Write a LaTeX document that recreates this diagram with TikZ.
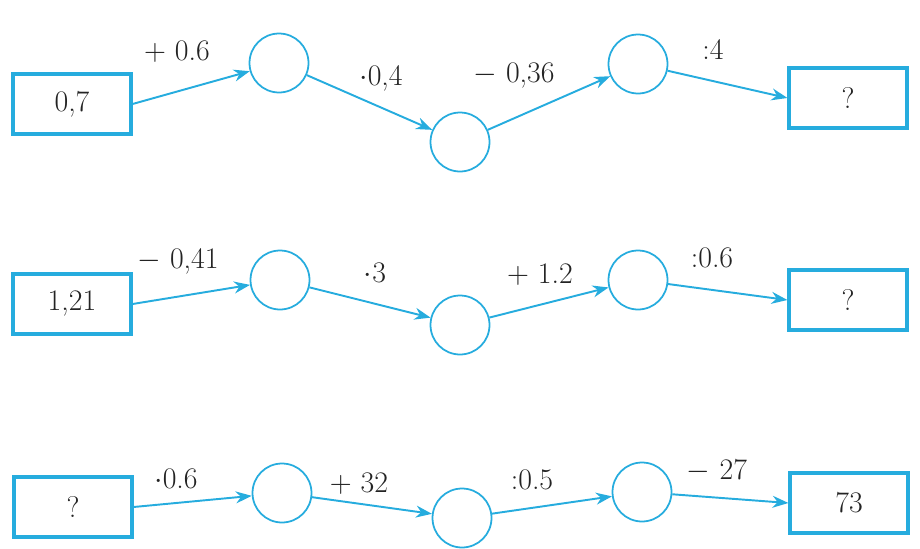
\documentclass[tikz,border=0pt]{standalone}
\usepackage{xcolor}
\usepackage{tikz}
\usetikzlibrary{arrows.meta, positioning, calc}
\definecolor{chaincyan}{RGB}{38, 172, 222}
\definecolor{inkgray}{RGB}{35, 35, 35}

\begin{document}
\begin{tikzpicture}[x=0.02cm, y=-0.02cm,
    numbox/.style={draw=chaincyan, line width=1.8pt, minimum width=2.36cm, minimum height=1.2cm, inner sep=0pt, text=inkgray, font=\fontsize{17}{20}\selectfont},
    opcircle/.style={draw=chaincyan, line width=1pt, circle, minimum size=1.18cm, inner sep=0pt},
    flow/.style={draw=chaincyan, line width=1.1pt, -{Stealth[length=0.32cm, width=0.24cm]}},
    oplabel/.style={text=inkgray, font=\fontsize{17}{20}\selectfont, inner sep=0pt}]
    % Frame
    \useasboundingbox (0,0) rectangle (920,548);

    % Row 1
    \node[numbox] (a0) at (72,104) {0,7};
    \node[opcircle] (a1) at (279,63) {};
    \node[opcircle] (a2) at (460,142) {};
    \node[opcircle] (a3) at (638,64) {};
    \node[numbox] (a4) at (848,98) {?};
    \draw[flow] (a0.east) -- (a1);
    \draw[flow] (a1) -- (a2);
    \draw[flow] (a2) -- (a3);
    \draw[flow] (a3) -- (a4.west);
    \node[oplabel] (la1) at (177,52) {$+$ 0.6};
    \node[oplabel] (la2) at (381,78) {$\cdot$0,4};
    \node[oplabel] (la3) at (514,76) {$-$ 0,36};
    \node[oplabel] (la4) at (713,50) {:4};

    % Row 2
    \node[numbox] (b0) at (72,304) {1,21};
    \node[opcircle] (b1) at (280,280) {};
    \node[opcircle] (b2) at (460,325) {};
    \node[opcircle] (b3) at (638,280) {};
    \node[numbox] (b4) at (848,300) {?};
    \draw[flow] (b0.east) -- (b1);
    \draw[flow] (b1) -- (b2);
    \draw[flow] (b2) -- (b3);
    \draw[flow] (b3) -- (b4.west);
    \node[oplabel] (lb1) at (178,261) {$-$ 0,41};
    \node[oplabel] (lb2) at (375,273) {$\cdot$3};
    \node[oplabel] (lb3) at (540,275) {$+$ 1.2};
    \node[oplabel] (lb4) at (712,258) {:0.6};

    % Row 3
    \node[numbox] (c0) at (73,507) {?};
    \node[opcircle] (c1) at (282,493) {};
    \node[opcircle] (c2) at (462,518) {};
    \node[opcircle] (c3) at (642,492) {};
    \node[numbox] (c4) at (849,503) {73};
    \draw[flow] (c0.east) -- (c1);
    \draw[flow] (c1) -- (c2);
    \draw[flow] (c2) -- (c3);
    \draw[flow] (c3) -- (c4.west);
    \node[oplabel] (lc1) at (176,479) {$\cdot$0.6};
    \node[oplabel] (lc2) at (359,484) {$+$ 32};
    \node[oplabel] (lc3) at (532,480) {:0.5};
    \node[oplabel] (lc4) at (717,471) {$-$ 27};
\end{tikzpicture}
\end{document}
